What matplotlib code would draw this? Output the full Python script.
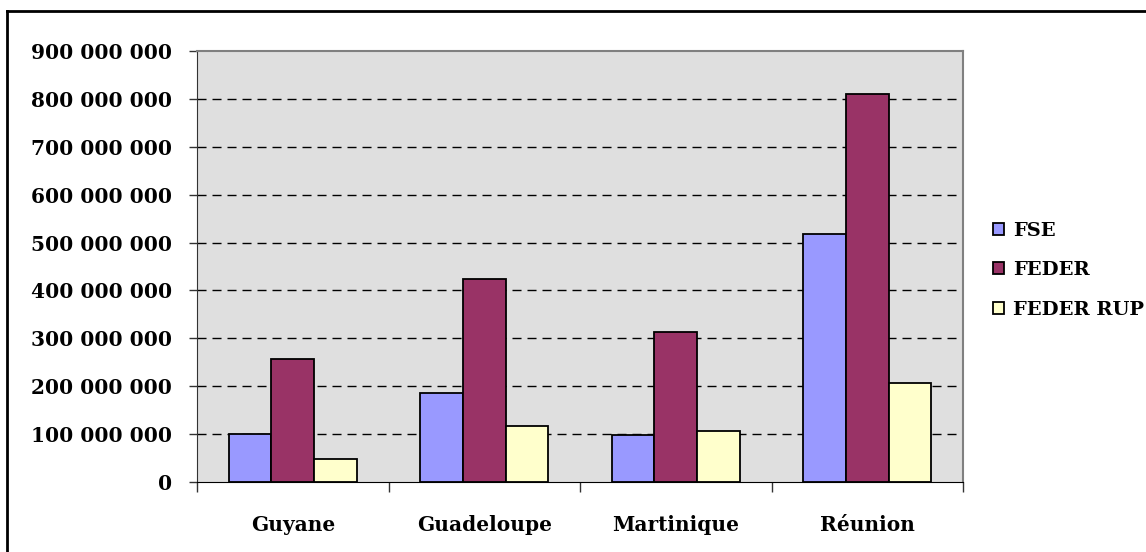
import matplotlib
matplotlib.use("Agg")
import matplotlib.pyplot as plt
import numpy as np
from matplotlib.lines import Line2D

regions = ["Guyane", "Guadeloupe", "Martinique", "Réunion"]
fse = [100e6, 186e6, 99e6, 518e6]
feder = [257e6, 423e6, 313e6, 810e6]
feder_rup = [47e6, 117e6, 106e6, 206e6]
series_names = ["FSE", "FEDER", "FEDER RUP"]
colors = ["#9999FF", "#993366", "#FFFFCC"]
yticks = np.arange(0, 900e6 + 1, 100e6)

plt.rcParams['font.family'] = ['DejaVu Serif']
plt.rcParams['font.weight'] = 'bold'

fig = plt.figure(figsize=(11.46, 5.52), dpi=100)
ax = fig.add_axes([197/1146, 70/552, 766/1146, 431/552])
ax.set_facecolor("#DFDFDF")

x = np.arange(len(regions))
w = 1 / 4.5
bars = []
for i, (vals, col) in enumerate(zip([fse, feder, feder_rup], colors)):
    b = ax.bar(x + (i - 1) * w, vals, width=w, color=col,
               edgecolor="black", linewidth=1.3, zorder=3)
    bars.append(b)

ax.set_xlim(-0.5, 3.5)
ax.set_ylim(0, 900e6)

# y axis
ax.set_yticks(yticks)
ax.set_yticklabels(["{:,}".format(int(v)).replace(",", " ") for v in yticks],
                   fontsize=14.5, fontweight="bold")
ax.tick_params(axis="y", direction="out", length=6, width=1, color="#333333", pad=12)

# category axis: ticks at boundaries, labels at centers
ax.set_xticks(x)
ax.set_xticklabels(regions, fontsize=14.5, fontweight="bold")
ax.tick_params(axis="x", which="major", length=0, pad=24)
ax.set_xticks(np.arange(-0.5, 4, 1), minor=True)
ax.tick_params(axis="x", which="minor", direction="out", length=7, width=1, color="#333333")

# dashed gridlines
for v in yticks[1:-1]:
    ax.axhline(v, color="black", linewidth=1, dashes=(6.5, 4.3), zorder=1)

for side in ["top", "right"]:
    ax.spines[side].set_color("#808080")
    ax.spines[side].set_linewidth(1.5)
ax.spines["left"].set_color("#333333")
ax.spines["bottom"].set_color("black")

ax.legend(bars, series_names, loc="upper left",
          bbox_to_anchor=(985/1146, 1 - 214/552), bbox_transform=fig.transFigure,
          frameon=False, fontsize=14, handlelength=0.6, handleheight=0.6,
          handletextpad=0.45, labelspacing=1.1, borderaxespad=0)

# outer frame (left and top edges visible)
fig.add_artist(Line2D([7/1146, 7/1146], [0, 1 - 11/552], transform=fig.transFigure,
                      color="black", linewidth=2))
fig.add_artist(Line2D([7/1146, 1], [1 - 11/552, 1 - 11/552], transform=fig.transFigure,
                      color="black", linewidth=2))

fig.savefig("out.png", dpi=100)
